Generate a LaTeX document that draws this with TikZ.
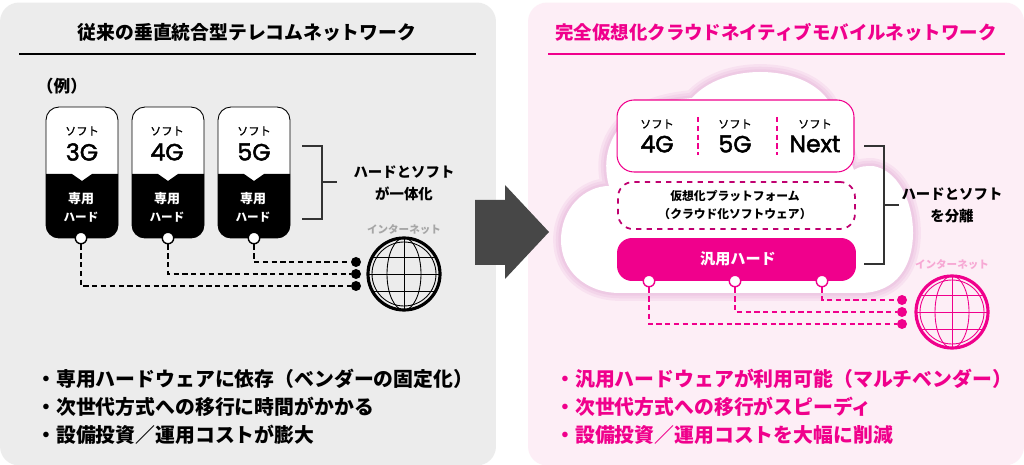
\documentclass[tikz,border=0pt]{standalone}
\usepackage{fontspec}
\setmainfont{Noto Sans CJK JP}
\newfontfamily\numfont[FakeBold=2]{Poppins}
\newfontfamily\softfont[FakeBold=0.8]{Noto Sans CJK JP}
\usepackage{xcolor}
\usetikzlibrary{positioning,shapes}
\definecolor{hotpink}{HTML}{F0008C}
\definecolor{panelgray}{HTML}{ECECEC}
\definecolor{panelpink}{HTML}{FDEEF6}
\definecolor{netpink}{HTML}{F7A8D4}
\newcommand{\fs}[1]{\fontsize{#1}{#1}\selectfont}
\tikzset{
    panel/.style={draw=none,rounded corners=0.38cm,minimum width=9.92cm,minimum height=9.26cm,inner sep=0},
    titletxt/.style={font=\fs{10.7}\bfseries,inner sep=0},
    bullet/.style={font=\fs{11.3}\bfseries,anchor=west,inner sep=0},
    softtxt/.style={font=\fs{6.4}\softfont,inner sep=0},
    numtxt/.style={font=\fs{13.4}\numfont,inner sep=0},
    hardtxt/.style={font=\fs{7.4}\bfseries,white,inner sep=0},
    sidetxt/.style={font=\fs{8.2}\bfseries,inner sep=0},
    nettxt/.style={font=\fs{6}\bfseries,inner sep=0},
    virttxt/.style={font=\fs{6.7}\bfseries,inner sep=0},
    card/.style={draw=black,line width=0.5pt,fill=white,rounded corners=0.26cm,minimum width=1.44cm,minimum height=2.62cm,inner sep=0},
    port/.style={circle,fill=white,line width=0.8pt,minimum size=0.23cm,inner sep=0},
    dot/.style={circle,minimum size=0.2cm,inner sep=0},
    link/.style={densely dashed,line width=0.8pt},
    brace/.style={line width=0.9pt,black!80},
    glow/.style={draw=violet!70!hotpink,line join=round,opacity=0.05},
    globe/.pic={
        \draw[line width=1.8pt] (0,0) circle (36);
        \draw[line width=0.5pt] (0,0) circle (32);
        \draw[line width=0.5pt] (0,-36) -- (0,36);
        \draw[line width=0.5pt] (-36,0) -- (36,0);
        \draw[line width=0.5pt] (-31,-17) -- (31,-17);
        \draw[line width=0.5pt] (-31,17) -- (31,17);
        \draw[line width=0.5pt] (0,0) ellipse (17 and 36);
    },
}
\def\cloudpath{(620,293) .. controls (585,293) and (561,270) .. (561,240) .. controls (561,208) and (585,186) .. (609,186) .. controls (603,165) and (606,140) .. (625,122) .. controls (645,105) and (670,100) .. (692,98) .. controls (708,80) and (735,72) .. (760,72) .. controls (790,72) and (815,82) .. (828,100) -- (854,170) .. controls (860,166) and (866,166) .. (873,166) .. controls (897,170) and (913,200) .. (913,233) .. controls (913,265) and (897,293) .. (860,293) -- cycle}
\begin{document}
\begin{tikzpicture}[x=0.02cm,y=-0.02cm]
    \useasboundingbox (0,0) rectangle (1024,465);
    \fill[white] (0,0) rectangle (1024,465);

    % panels
    \node[panel,fill=panelgray] (left)at (248,234) {};
    \node[panel,fill=panelpink] (right)at (776,234) {};
    \node[titletxt] (titleL)at (247,32) {従来の垂直統合型テレコムネットワーク};
    \node[titletxt,hotpink,font=\fs{10.5}\bfseries] (titleR)at (776,32) {完全仮想化クラウドネイティブモバイルネットワーク};
    \coordinate (lineLa) at (19,54);
    \coordinate (lineLb) at (476,54);
    \coordinate (lineRa) at (548,54);
    \coordinate (lineRb) at (1005,54);
    \draw [line width=0.8pt] (lineLa) to (lineLb);
    \draw [line width=0.8pt,hotpink] (lineRa) to (lineRb);

    % left side
    \node[font=\fs{9.5}\bfseries,inner sep=0] (rei)at (62,86) {（例）};
    \node[card] (c3)at (82,172.5) {};
    \node[card] (c4)at (168,172.5) {};
    \node[card] (c5)at (254,172.5) {};
    \fill (46,174) -- (72,174) -- (82,181) -- (92,174) -- (118,174) [rounded corners=0.26cm] -- (118,238) -- (46,238) [sharp corners] -- cycle;
    \fill (132,174) -- (158,174) -- (168,181) -- (178,174) -- (204,174) [rounded corners=0.26cm] -- (204,238) -- (132,238) [sharp corners] -- cycle;
    \fill (218,174) -- (244,174) -- (254,181) -- (264,174) -- (290,174) [rounded corners=0.26cm] -- (290,238) -- (218,238) [sharp corners] -- cycle;
    \node[softtxt] (s3)at (82,131) {ソフト};
    \node[softtxt] (s4)at (167,131) {ソフト};
    \node[softtxt] (s5)at (254,131) {ソフト};
    \node[numtxt] (g3)at (82,152) {3G};
    \node[numtxt] (g4)at (167,152) {4G};
    \node[numtxt] (g5)at (254,152) {5G};
    \node[hardtxt] (a3)at (81,199) {専用};
    \node[hardtxt] (a4)at (167,199) {専用};
    \node[hardtxt] (a5)at (253,199) {専用};
    \node[hardtxt,font=\fs{6.6}\bfseries] (b3)at (81,217) {ハード};
    \node[hardtxt,font=\fs{6.6}\bfseries] (b4)at (167,217) {ハード};
    \node[hardtxt,font=\fs{6.6}\bfseries] (b5)at (253,217) {ハード};
    \node[port,draw=black] (p3)at (81,238) {};
    \node[port,draw=black] (p4)at (168,238) {};
    \node[port,draw=black] (p5)at (254,238) {};
    \node[dot,fill=black] (d5)at (356,262) {};
    \node[dot,fill=black] (d4)at (356,274) {};
    \node[dot,fill=black] (d3)at (356,286) {};
    \draw [link] (p3) |- (d3);
    \draw [link] (p4) |- (d4);
    \draw [link] (p5) |- (d5);
    \coordinate (brLa) at (302,146);
    \coordinate (brLb) at (322,146);
    \coordinate (brLc) at (322,219);
    \coordinate (brLd) at (302,219);
    \coordinate (brLe) at (322,182);
    \coordinate (brLf) at (337,182);
    \draw [brace] (brLa) -- (brLb) -- (brLc) -- (brLd);
    \draw [brace] (brLe) -- (brLf);
    \node[sidetxt] (oneA)at (404,172) {ハードとソフト};
    \node[sidetxt] (oneB)at (404,194) {が一体化};
    \node[nettxt,black!35] (netL)at (404,230) {インターネット};
    \pic[black] at (404,274) {globe};
    \node[bullet] (l1)at (36,379) {・専用ハードウェアに依存（ベンダーの固定化）};
    \node[bullet] (l2)at (36,407) {・次世代方式への移行に時間がかかる};
    \node[bullet] (l3)at (36,435) {・設備投資／運用コストが膨大};

    % arrow
    \fill[black!72] (475,200) -- (505,200) -- (505,185) -- (549,232) -- (505,279) -- (505,265) -- (475,265) -- cycle;

    % cloud
    \draw [glow,line width=9pt] \cloudpath;
    \draw [glow,line width=6pt] \cloudpath;
    \draw [glow,line width=3pt] \cloudpath;
    \fill [white] \cloudpath;
    \node[draw=hotpink,fill=white,line width=0.6pt,rounded corners=0.34cm,minimum width=4.74cm,minimum height=1.44cm,inner sep=0] (soft)at (735.5,136) {};
    \coordinate (sepAa) at (698,117);
    \coordinate (sepAb) at (698,155);
    \coordinate (sepBa) at (777,117);
    \coordinate (sepBb) at (777,155);
    \draw [hotpink,densely dashed,line width=1.1pt] (sepAa) to (sepAb);
    \draw [hotpink,densely dashed,line width=1.1pt] (sepBa) to (sepBb);
    \node[softtxt] (t4)at (657,124) {ソフト};
    \node[softtxt] (t5)at (735,124) {ソフト};
    \node[softtxt] (t6)at (815,124) {ソフト};
    \node[numtxt] (n4)at (657,144) {4G};
    \node[numtxt] (n5)at (735,144) {5G};
    \node[numtxt] (n6)at (815,144) {Next};
    \node[draw=hotpink!80!black,dashed,fill=white,line width=1pt,rounded corners=0.3cm,minimum width=4.74cm,minimum height=0.94cm,inner sep=0] (virt)at (736.5,205.5) {};
    \node[virttxt] (va)at (735,196) {仮想化プラットフォーム};
    \node[virttxt] (vb)at (735,214) {（クラウド化ソフトウェア）};
    \node[fill=hotpink,rounded corners=0.3cm,minimum width=4.78cm,minimum height=0.86cm,inner sep=0] (hard)at (736.5,259.5) {};
    \node[font=\fs{8.6}\bfseries,white,inner sep=0] (ht)at (738,259) {汎用ハード};
    \node[port,draw=hotpink] (q3)at (649,281) {};
    \node[port,draw=hotpink] (q4)at (735,281) {};
    \node[port,draw=hotpink] (q5)at (822,281) {};
    \node[dot,fill=hotpink] (e5)at (902,300) {};
    \node[dot,fill=hotpink] (e4)at (902,312) {};
    \node[dot,fill=hotpink] (e3)at (902,324) {};
    \draw [link,hotpink] (q3) |- (e3);
    \draw [link,hotpink] (q4) |- (e4);
    \draw [link,hotpink] (q5) |- (e5);
    \coordinate (brRa) at (864,146);
    \coordinate (brRb) at (884,146);
    \coordinate (brRc) at (884,264);
    \coordinate (brRd) at (864,264);
    \coordinate (brRe) at (884,205);
    \coordinate (brRf) at (899,205);
    \draw [brace] (brRa) -- (brRb) -- (brRc) -- (brRd);
    \draw [brace] (brRe) -- (brRf);
    \node[sidetxt] (sepA)at (952,194) {ハードとソフト};
    \node[sidetxt] (sepB)at (952,216) {を分離};
    \node[nettxt,netpink] (netR)at (952,265) {インターネット};
    \pic[hotpink] at (952,312) {globe};
    \node[bullet,hotpink] (r1)at (555,379) {・汎用ハードウェアが利用可能（マルチベンダー）};
    \node[bullet,hotpink] (r2)at (555,407) {・次世代方式への移行がスピーディ};
    \node[bullet,hotpink] (r3)at (555,435) {・設備投資／運用コストを大幅に削減};
\end{tikzpicture}
\end{document}
